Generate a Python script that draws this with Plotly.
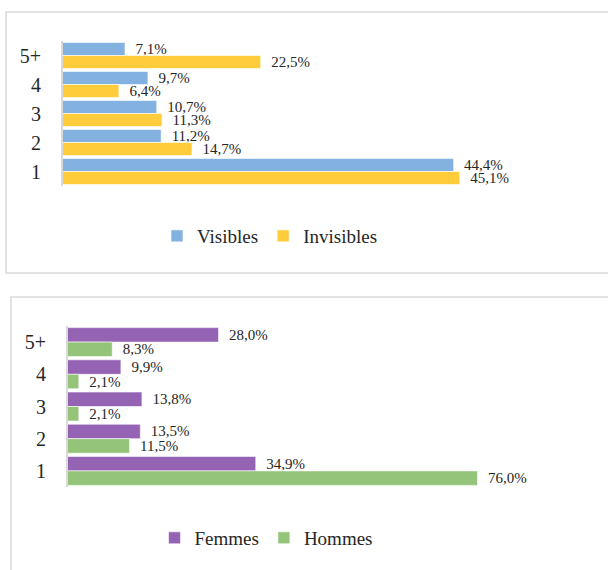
import plotly.graph_objects as go

W, H = 608, 570

categories = ["5+", "4", "3", "2", "1"]

visibles = [7.1, 9.7, 10.7, 11.2, 44.4]
invisibles = [22.5, 6.4, 11.3, 14.7, 45.1]

femmes = [28.0, 9.9, 13.8, 13.5, 34.9]
hommes = [8.3, 2.1, 2.1, 11.5, 76.0]

SERIF = "Liberation Serif, Times New Roman, serif"
TEXT_COLOR = "#262626"
BORDER = "#d9d9d9"


def px_x(v):
    return v / W


def px_y(v):
    return 1 - v / H


def bar(name, values, color, xaxis, yaxis, legend):
    return go.Bar(
        name=name,
        y=categories,
        x=values,
        orientation="h",
        marker={"color": color, "line": {"color": "#ffffff", "width": 0.6}},
        texttemplate="\u00a0\u00a0%{x:.1f}%",
        textposition="outside",
        textfont={"family": SERIF, "size": 15, "color": TEXT_COLOR},
        constraintext="none",
        cliponaxis=False,
        xaxis=xaxis,
        yaxis=yaxis,
        legend=legend,
        hoverinfo="skip",
    )


fig = go.Figure()
fig.add_trace(bar("Visibles", visibles, "#83b2e0", "x", "y", "legend"))
fig.add_trace(bar("Invisibles", invisibles, "#ffcc3c", "x", "y", "legend"))
fig.add_trace(bar("Femmes", femmes, "#9463b4", "x2", "y2", "legend2"))
fig.add_trace(bar("Hommes", hommes, "#94c47a", "x2", "y2", "legend2"))

xaxis_common = {
    "showgrid": False,
    "zeroline": False,
    "showline": False,
    "showticklabels": False,
    "ticks": "",
    "fixedrange": True,
}
yaxis_common = {
    "type": "category",
    "categoryorder": "array",
    "categoryarray": categories,
    "autorange": "reversed",
    "showgrid": False,
    "zeroline": False,
    "showline": True,
    "linecolor": BORDER,
    "linewidth": 1.5,
    "ticks": "",
    "ticklabelstandoff": 16,
    "tickfont": {"family": SERIF, "size": 20, "color": TEXT_COLOR},
}

legend_common = {
    "orientation": "h",
    "xanchor": "center",
    "yanchor": "middle",
    "font": {"family": SERIF, "size": 19, "color": TEXT_COLOR},
    "bgcolor": "rgba(0,0,0,0)",
    "itemwidth": 30,
}

fig.update_layout(
    width=W,
    height=H,
    margin={"l": 0, "r": 0, "t": 0, "b": 0},
    paper_bgcolor="#ffffff",
    plot_bgcolor="#ffffff",
    separators=", ",
    barmode="group",
    bargap=0.1,
    bargroupgap=0,
    xaxis={**xaxis_common, "domain": [px_x(62.5), px_x(547)], "range": [0, 55], "anchor": "y"},
    yaxis={**yaxis_common, "domain": [px_y(186), px_y(41)], "anchor": "x"},
    xaxis2={**xaxis_common, "domain": [px_x(67.5), px_x(553)], "range": [0, 90], "anchor": "y2"},
    yaxis2={**yaxis_common, "domain": [px_y(487), px_y(326)], "anchor": "x2"},
    legend={**legend_common, "x": px_x(270), "y": px_y(236)},
    legend2={**legend_common, "x": px_x(266), "y": px_y(538)},
    shapes=[
        {
            "type": "rect",
            "xref": "paper",
            "yref": "paper",
            "x0": px_x(6),
            "x1": px_x(640),
            "y0": px_y(273),
            "y1": px_y(12),
            "line": {"color": BORDER, "width": 1.5},
        },
        {
            "type": "rect",
            "xref": "paper",
            "yref": "paper",
            "x0": px_x(11),
            "x1": px_x(640),
            "y0": px_y(620),
            "y1": px_y(297),
            "line": {"color": BORDER, "width": 1.5},
        },
    ],
)

fig.write_html(
    "out.html",
    config={"displayModeBar": False, "staticPlot": True},
    post_script="document.body.style.margin='0';document.body.style.overflow='hidden';",
)
